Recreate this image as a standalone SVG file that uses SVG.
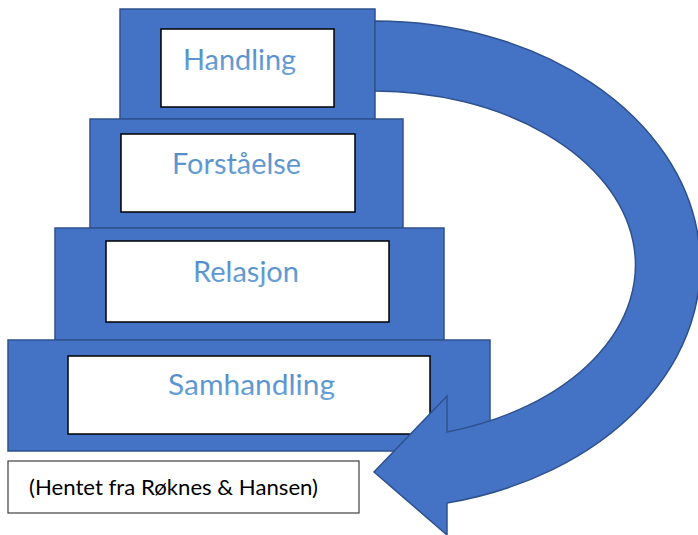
<svg xmlns="http://www.w3.org/2000/svg" width="698" height="535" viewBox="0 0 698 535">
<style>
.step{fill:#4472c4;stroke:#2f528f;stroke-width:1.5}
.box{fill:#fff;stroke:#000;stroke-width:1.5}
.lbl{font-family:Lato,"Open Sans","Liberation Sans",sans-serif;font-size:29px;fill:url(#tg)}
.cite{font-family:Lato,"Liberation Sans",sans-serif;font-size:21px;fill:#000}
</style>
<defs>
<linearGradient id="tg" x1="0" y1="0" x2="0" y2="1">
<stop offset="0" stop-color="#4a86c5"/>
<stop offset="1" stop-color="#6ea5da"/>
</linearGradient>
</defs>
<g id="step-handling">
<rect class="step" x="120" y="9" width="255" height="110"/>
<rect class="box" x="161" y="29" width="173" height="78"/>
<text class="lbl" x="183" y="70" textLength="113" lengthAdjust="spacingAndGlyphs">Handling</text>
</g>
<g id="step-forstaelse">
<rect class="step" x="90" y="119" width="313" height="109"/>
<rect class="box" x="121" y="134" width="234" height="78"/>
<text class="lbl" x="172" y="174" textLength="129" lengthAdjust="spacingAndGlyphs">Forståelse</text>
</g>
<g id="step-relasjon">
<rect class="step" x="55" y="228" width="389" height="112"/>
<rect class="box" x="106" y="241" width="283" height="81"/>
<text class="lbl" x="193" y="282" textLength="106" lengthAdjust="spacingAndGlyphs">Relasjon</text>
</g>
<g id="step-samhandling">
<rect class="step" x="8" y="340" width="482" height="111"/>
<rect class="box" x="68" y="356" width="362" height="78"/>
<text class="lbl" x="168" y="395" textLength="167" lengthAdjust="spacingAndGlyphs">Samhandling</text>
</g>
<g id="connectors">
<path class="step" d="M375 21 A325 244 0 0 1 447 503 L447 535 L374 472 L447 396 L447 432 A262 174 0 0 0 375 91 Z"/>
</g>
<g id="citation">
<rect x="8" y="461" width="351" height="52" fill="#fff" stroke="#404040" stroke-width="1.2"/>
<text class="cite" x="29" y="495" textLength="289" lengthAdjust="spacingAndGlyphs">(Hentet fra Røknes &amp; Hansen)</text>
</g>
</svg>
